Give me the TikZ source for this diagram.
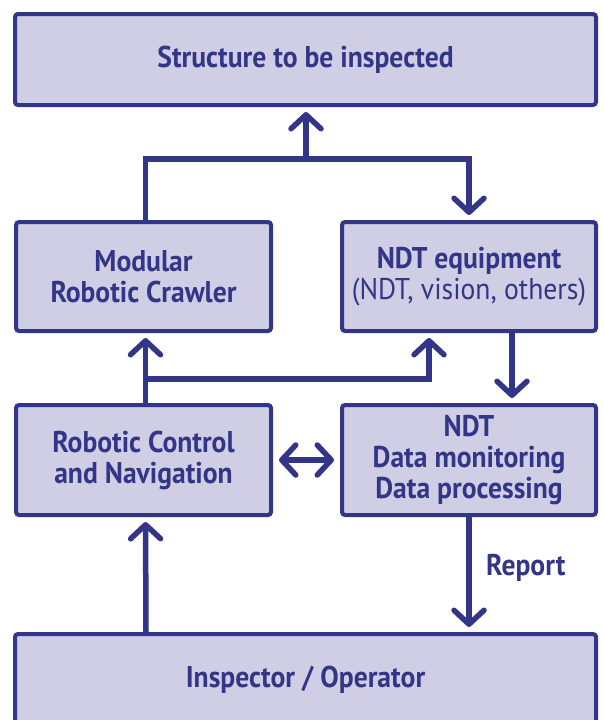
\documentclass[tikz,border=0pt]{standalone}
\usepackage{fontspec}
\setmainfont{PT Sans}[FakeStretch=0.92]
\usetikzlibrary{arrows.meta}
\definecolor{esablue}{RGB}{51,53,136}
\definecolor{esafill}{RGB}{208,206,228}
\begin{document}
\begin{tikzpicture}[x=1pt,y=-1pt,
  box/.style={draw=esablue, fill=esafill, line width=4pt, rounded corners=3pt,
    inner sep=0pt, align=center, text=esablue,
    font=\bfseries\fontsize{30}{31}\selectfont},
  lbl/.style={inner sep=0pt, text=esablue, font=\bfseries\fontsize{30}{31}\selectfont},
  barb/.tip={Straight Barb[length=14pt,width=30pt,round]},
  conn/.style={draw=esablue, line width=5.5pt, -barb, shorten >=5pt},
]
\useasboundingbox (0,0) rectangle (603,720);
\clip (0,0) rectangle (603,720);

% boxes
\node[box, minimum width=581pt, minimum height=91pt] (top) at (305.5,59.5)
  {Structure to be inspected};
\node[box, minimum width=255pt, minimum height=109pt] (mod) at (143.5,276.5)
  {Modular\\Robotic Crawler};
\node[box, minimum width=254pt, minimum height=109pt] (ndt) at (469,276.5)
  {NDT equipment\\{\mdseries (NDT, vision, others)}};
\node[box, minimum width=255pt, minimum height=110pt] (rob) at (143.5,460)
  {Robotic Control\\and Navigation};
\node[box, minimum width=254pt, minimum height=110pt] (dat) at (469,460)
  {NDT\\Data monitoring\\Data processing};
\node[box, minimum width=581pt, minimum height=92pt] (insp) at (305.5,680)
  {Inspector / Operator};

% junction points
\coordinate (jt) at (306,159);
\coordinate (jb) at (146,379);

% crawler and equipment act on the structure
\draw[conn, shorten >=0pt, -] ([xshift=2pt]mod.north) |- (jt);
\draw[conn] (jt) -| (ndt.north);
\draw[conn] (jt) -- (top.south -| jt);

% control feeds crawler and equipment
\draw[conn] ([xshift=2pt]rob.north) -- ([xshift=2pt]mod.south);
\draw[conn] (jb) -| ([xshift=-40pt]ndt.south);

% equipment to data processing
\draw[conn] ([xshift=43pt]ndt.south) -- ([xshift=43pt]dat.north);

% control <-> data
\draw[conn, barb-barb, shorten <=6pt, shorten >=6pt] (rob.east) -- (dat.west);

% operator drives control, data reports to operator
\draw[conn] (insp.north -| jb) -- ([xshift=2pt]rob.south);
\draw[conn] (dat.south) -- (insp.north -| dat.south);
\node[lbl, anchor=west] (rep) at (486,568) {Report};
\end{tikzpicture}
\end{document}
